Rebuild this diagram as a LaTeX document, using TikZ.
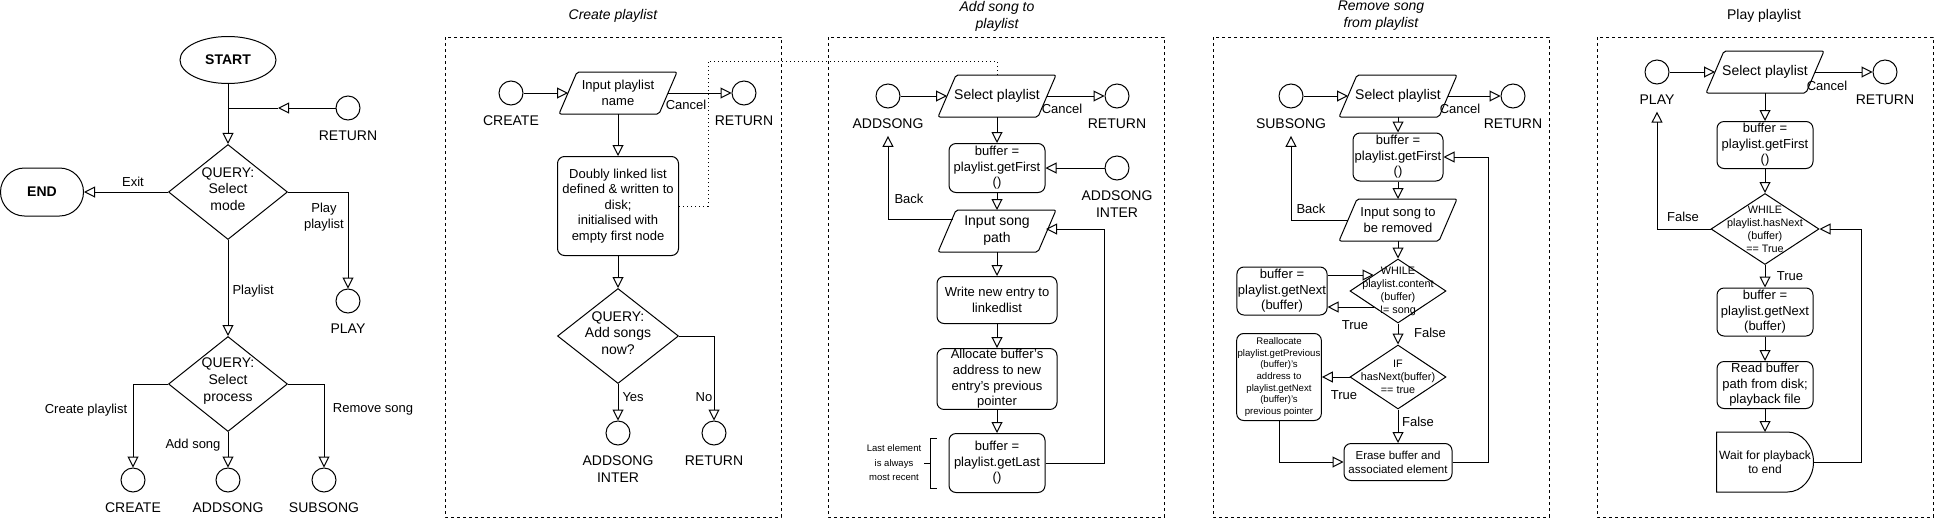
\documentclass[tikz,border=0pt]{standalone}
\usepackage{fontspec}
\setmainfont{Liberation Sans}
\usetikzlibrary{shapes.geometric,arrows.meta}

\newcommand{\fsz}[1]{\fontsize{#1}{\dimexpr #1pt*12/10\relax}\selectfont}
% slanted frame round an io node
\newcommand{\ioframe}[1]{\draw[rounded corners=2pt] ([xshift=-9pt]#1.south west) -- ([xshift=9pt]#1.north west)
  -- ([xshift=9pt]#1.north east) -- ([xshift=-9pt]#1.south east) -- cycle;}

\tikzset{
  flow/.style={line width=1pt, -{Triangle[open,length=11pt,width=11pt]}},
  dotline/.style={line width=1pt, dash pattern=on 1pt off 3pt},
  conn/.style={circle, draw, minimum size=24pt, inner sep=0pt, label distance=0pt},
  clab/.style={font=\fsz{14}, align=center, inner sep=0pt, yshift=-9.5pt},
  proc/.style={rectangle, rounded corners=7pt, draw, align=center, inner sep=1pt, font=\fsz{13}},
  io/.style={rectangle, align=center, inner sep=0pt, minimum width=99pt, minimum height=41pt},
  query/.style={diamond, draw, inner sep=0pt},
  qtext/.style={align=center, inner sep=0pt, font=\fsz{14}},
  elab/.style={font=\fsz{13}, inner sep=0pt, align=center},
  panel/.style={draw, dash pattern=on 3pt off 3pt},
  ptitle/.style={font=\itshape\fsz{14}, align=center, inner sep=0pt},
}

\begin{document}
\begin{tikzpicture}[x=1pt, y=-1pt, line width=1pt, font=\fsz{13}]
  \fill[white] (0,0) rectangle (1936,520);

  % main menu
  \node[draw, ellipse, minimum width=96pt, minimum height=47pt, font=\bfseries\fsz{14}] (start) at (228,60) {START};
  \node[query, minimum width=119pt, minimum height=95pt, label={[qtext, yshift=3pt]center:{QUERY:\\Select\\mode}}] (mode) at (228,192) {};
  \node[rectangle, rounded corners=24pt, draw, minimum width=83pt, minimum height=48pt, font=\bfseries\fsz{14}] (end) at (42,192) {END};
  \node[conn, label={[clab]below:RETURN}] (ret0) at (348,108) {};
  \coordinate (ret0a) at (278,108);
  \coordinate (join0) at (228,108);
  \node[conn, label={[clab]below:PLAY}] (play0) at (348,301) {};
  \node[query, minimum width=119pt, minimum height=95pt, label={[qtext, yshift=3pt]center:{QUERY:\\Select\\process}}] (proc0) at (228,384) {};
  \node[conn, label={[clab]below:CREATE}] (create0) at (133,480) {};
  \node[conn, label={[clab]below:ADDSONG}] (add0) at (228,480) {};
  \node[conn, label={[clab]below:SUBSONG}] (sub0) at (324,480) {};

  \draw[flow] (start) -- (mode);
  \draw[flow] (ret0) -- (ret0a);
  \draw (ret0a) -- (join0);
  \draw[flow] (mode) -- (end);
  \draw[flow] (mode.east) -| (play0);
  \draw[flow] (mode) -- (proc0);
  \draw[flow] (proc0.west) -| (create0);
  \draw[flow] (proc0) -- (add0);
  \draw[flow] (proc0.east) -| (sub0);

  \node[elab] (lexit) at (133,182) {Exit};
  \node[elab] (lplay) at (324,217) {Play\\playlist};
  \node[elab, anchor=west] (lplaylist) at (232,291) {Playlist};
  \node[elab] (lcreate) at (86,410) {Create playlist};
  \node[elab] (laddsong) at (193,445) {Add song};
  \node[elab] (lremove) at (373,409) {Remove song};

  % create playlist
  \draw[panel] (445,37) rectangle (781,517);
  \node[ptitle] (t2) at (613,16) {Create playlist};
  \node[conn, label={[clab]below:CREATE}] (create2) at (511,93) {};
  \node[io, font=\fsz{13}] (inpl2) at (618,93) {Input playlist\\name};
  \ioframe{inpl2}
  \node[conn, label={[clab]below:RETURN}] (ret2) at (744,93) {};
  \node[proc, minimum width=121pt, minimum height=99pt] (dll2) at (618,206) {Doubly linked list\\defined \& written to\\disk;\\initialised with\\empty first node};
  \node[query, minimum width=121pt, minimum height=95pt, label={[qtext, yshift=3pt]center:{QUERY:\\Add songs\\now?}}] (q2) at (618,336) {};
  \node[conn, label={[clab]below:{ADDSONG\\INTER}}] (adi2) at (618,433) {};
  \node[conn, label={[clab]below:RETURN}] (ret2b) at (714,433) {};
  \coordinate (dot2) at (708,61);

  \draw[flow] (create2) -- (inpl2);
  \draw[flow] (inpl2) -- (ret2);
  \draw[flow] (inpl2) -- (dll2);
  \draw[flow] (dll2) -- (q2);
  \draw[flow] (q2) -- (adi2);
  \draw[flow] (q2.east) -| (ret2b);

  \node[elab] (lcancel2) at (686,105) {Cancel};
  \node[elab, anchor=west] (lyes2) at (622,397) {Yes};
  \node[elab] (lno2) at (704,397) {No};

  % add song to playlist
  \draw[panel] (828,37) rectangle (1164,517);
  \node[ptitle] (t3) at (997,16) {Add song to\\playlist};
  \node[conn, label={[clab,name=add3l]below:ADDSONG}] (add3) at (888,96) {};
  \node[io, font=\fsz{14}] (sel3) at (997,96) {Select playlist};
  \ioframe{sel3}
  \node[conn, label={[clab]below:RETURN}] (ret3) at (1117,96) {};
  \node[proc, minimum width=96pt, minimum height=49pt] (first3) at (997,168) {buffer =\\playlist.getFirst\\()};
  \node[conn, label={[clab]below:{ADDSONG\\INTER}}] (adi3) at (1117,168) {};
  \node[io, font=\fsz{14}] (inp3) at (997,231) {Input song\\path};
  \ioframe{inp3}
  \node[proc, minimum width=120pt, minimum height=47pt] (write3) at (997,300) {Write new entry to\\linkedlist};
  \node[proc, minimum width=120pt, minimum height=59pt] (alloc3) at (997,379) {Allocate buffer's\\address to new\\entry's previous\\pointer};
  \node[proc, minimum width=96pt, minimum height=59pt] (last3) at (997,463) {buffer =\\playlist.getLast\\()};
  \node[font={\fontsize{9.5}{14.5}\selectfont}, align=center, inner sep=0pt] (note3) at (894,463) {Last element\\is always\\most recent};
  \coordinate (loop3) at (1104,229);

  \draw[flow] (add3) -- (sel3);
  \draw[flow] (sel3) -- (ret3);
  \draw[flow] (sel3) -- (first3);
  \draw[flow] (adi3) -- (first3);
  \draw[flow] (first3) -- (inp3);
  \draw[flow] (inp3) -- (write3);
  \draw[flow] (write3) -- (alloc3);
  \draw[flow] (alloc3) -- (last3);
  \draw[flow] (last3.east) -| (loop3) -- ([xshift=-1pt,yshift=2pt]inp3.east);
  \draw[flow, shorten >=7pt] ([xshift=6pt,yshift=12pt]inp3.west) -| (add3l.south);
  \draw ([xshift=-12pt,yshift=25pt]last3.west) -- ++(-6,0) -- ++(0,50) -- ++(6,0);
  \draw ([xshift=-18pt]last3.west) -- ++(-7,0);
  \draw[dotline] (dll2.east) -| (dot2) -| (sel3.north);

  \node[elab] (lcancel3) at (1062,109) {Cancel};
  \node[elab] (lback3) at (909,199) {Back};

  % remove song from playlist
  \draw[panel] (1213,37) rectangle (1549,517);
  \node[ptitle] (t4) at (1381,16) {Remove song\\from playlist};
  \node[conn, label={[clab,name=sub4l]below:SUBSONG}] (sub4) at (1291,96) {};
  \node[io, font=\fsz{14}] (sel4) at (1398,96) {Select playlist};
  \ioframe{sel4}
  \node[conn, label={[clab]below:RETURN}] (ret4) at (1513,96) {};
  \node[proc, minimum width=90pt, minimum height=48pt] (first4) at (1398,157) {buffer =\\playlist.getFirst\\()};
  \node[io, font=\fsz{13}] (inp4) at (1398,220) {Input song to\\be removed};
  \ioframe{inp4}
  \node[query, minimum width=96pt, minimum height=64pt, label={[qtext, font=\fsz{10.8}]center:{WHILE\\playlist.content\\(buffer)\\!= song}}] (wh4) at (1398,291) {};
  \node[proc, minimum width=90pt, minimum height=48pt] (next4) at (1282,291) {buffer =\\playlist.getNext\\(buffer)};
  \node[query, minimum width=96pt, minimum height=64pt, label={[qtext, font=\fsz{10.8}]center:{IF\\hasNext(buffer)\\== true}}] (if4) at (1398,377) {};
  \node[proc, minimum width=84pt, minimum height=87pt, font=\fsz{9.6}] (realloc4) at (1279,377) {Reallocate\\playlist.getPrevious\\(buffer)'s\\address to\\playlist.getNext\\(buffer)'s\\previous pointer};
  \node[proc, minimum width=108pt, minimum height=37pt, font=\fsz{11.5}] (erase4) at (1398,462) {Erase buffer and\\associated element};
  \coordinate (loop4) at (1488,157);

  \draw[flow] (sub4) -- (sel4);
  \draw[flow] (sel4) -- (ret4);
  \draw[flow] (sel4) -- (first4);
  \draw[flow] (first4) -- (inp4);
  \draw[flow] (inp4) -- (wh4);
  \draw[flow] ([yshift=16pt]next4.east) -- ([xshift=24pt,yshift=16pt]wh4.west);
  \draw[flow] ([xshift=24pt,yshift=-16pt]wh4.west) -- ([yshift=-16pt]next4.east);
  \draw[flow] (wh4) -- (if4);
  \draw[flow] (if4) -- (realloc4);
  \draw[flow] (if4) -- (erase4);
  \draw[flow] (realloc4.south) |- (erase4.west);
  \draw[flow] (erase4.east) -| (loop4) -- (first4.east);
  \draw[flow, shorten >=7pt] (inp4.west) -| (sub4l.south);

  \node[elab] (lcancel4) at (1460,109) {Cancel};
  \node[elab] (lback4) at (1311,209) {Back};
  \node[elab] (ltrue4a) at (1355,325) {True};
  \node[elab] (lfalse4a) at (1430,333) {False};
  \node[elab] (ltrue4b) at (1344,395) {True};
  \node[elab] (lfalse4b) at (1418,422) {False};

  % play playlist
  \draw[panel] (1597,37) rectangle (1933,517);
  \node[ptitle, font=\fsz{14}] (t5) at (1764,16) {Play playlist};
  \node[conn, label={[clab,name=play5l]below:PLAY}] (play5) at (1657,72) {};
  \node[io, font=\fsz{14}] (sel5) at (1765,72) {Select playlist};
  \ioframe{sel5}
  \node[conn, label={[clab]below:RETURN}] (ret5) at (1885,72) {};
  \node[proc, minimum width=96pt, minimum height=47pt] (first5) at (1765,145) {buffer =\\playlist.getFirst\\()};
  \node[query, minimum width=108pt, minimum height=71pt, label={[qtext, font=\fsz{10.8}]center:{WHILE\\playlist.hasNext\\(buffer)\\== True}}] (wh5) at (1765,229) {};
  \node[proc, minimum width=96pt, minimum height=48pt] (next5) at (1765,312) {buffer =\\playlist.getNext\\(buffer)};
  \node[proc, minimum width=96pt, minimum height=47pt] (read5) at (1765,385) {Read buffer\\path from disk;\\playback file};
  \node[minimum width=96pt, minimum height=59pt, align=center, inner sep=0pt, font=\fsz{12}] (wait5) at (1765,462) {Wait for playback\\to end};
  \draw (wait5.south west) -- (wait5.north west) -- ([xshift=-26pt]wait5.north east)
    .. controls ([xshift=-11.6pt]wait5.north east) and ([yshift=16.3pt]wait5.east) .. (wait5.east)
    .. controls ([yshift=-16.3pt]wait5.east) and ([xshift=-11.6pt]wait5.south east) .. ([xshift=-26pt]wait5.south east) -- cycle;
  \coordinate (loop5) at (1861,229);

  \draw[flow] (play5) -- (sel5);
  \draw[flow] (sel5) -- (ret5);
  \draw[flow] (sel5) -- (first5);
  \draw[flow] (first5) -- (wh5);
  \draw[flow] (wh5) -- (next5);
  \draw[flow] (next5) -- (read5);
  \draw[flow] (read5) -- (wait5);
  \draw[flow] (wait5.east) -| (loop5) -- (wh5.east);
  \draw[flow, shorten >=7pt] (wh5.west) -| (play5l.south);

  \node[elab] (lcancel5) at (1827,86) {Cancel};
  \node[elab] (lfalse5) at (1683,217) {False};
  \node[elab] (ltrue5) at (1790,276) {True};
\end{tikzpicture}
\end{document}
